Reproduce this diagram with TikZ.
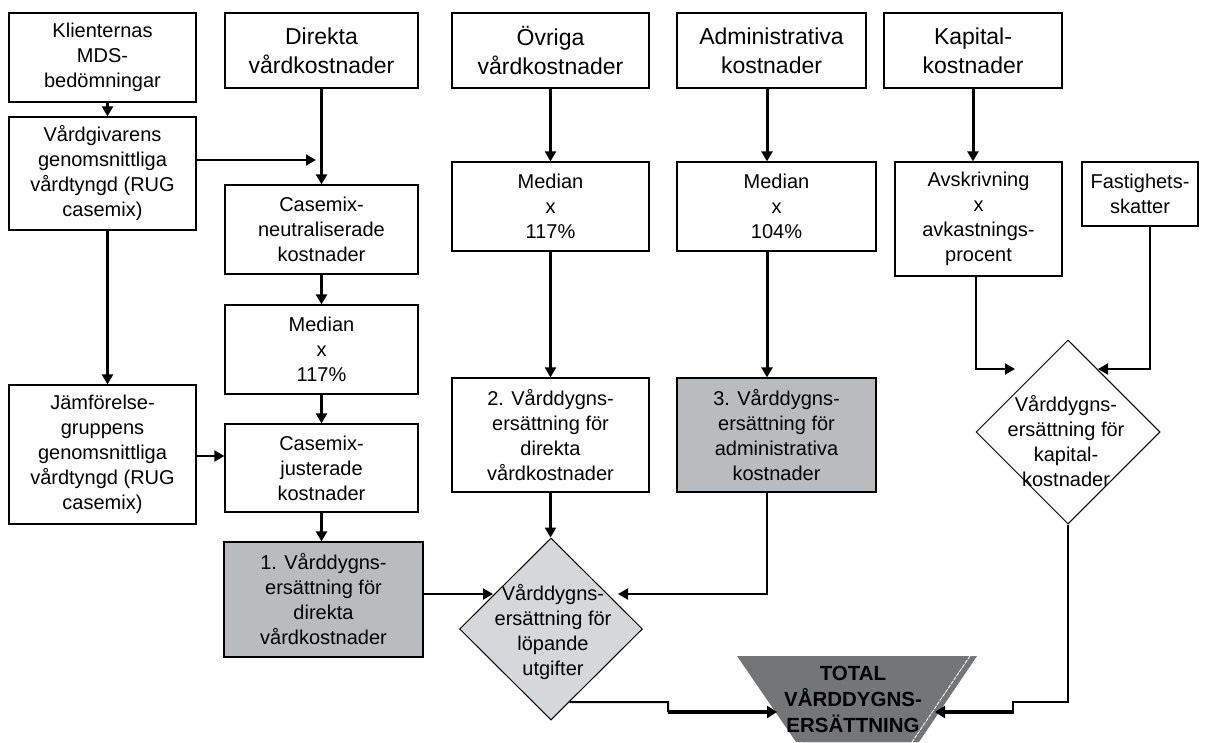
\documentclass[tikz,border=0pt]{standalone}
\usepackage{fontspec}
\setmainfont{Liberation Sans}
\usetikzlibrary{arrows.meta,shapes.geometric,calc}
\definecolor{boxgray}{HTML}{B9BCBE}
\definecolor{dgray}{HTML}{D5D8DA}
\definecolor{totgray}{HTML}{727677}
\begin{document}
\begin{tikzpicture}[x=1pt,y=-1pt,
  box/.style={draw=black, line width=1.3pt, inner sep=0pt, align=center, font=\fontsize{20}{25}\selectfont},
  hbox/.style={box, font=\fontsize{23}{29}\selectfont},
  dtext/.style={inner sep=0pt, align=center, font=\fontsize{20}{25}\selectfont},
  thickarr/.style={line width=3pt, -{Triangle[length=10pt,width=11pt]}},
  thinarr/.style={line width=2pt, -{Triangle[length=10pt,width=11pt]}},
  thinline/.style={line width=2pt},
  dia/.style={diamond, draw=black, line width=1pt, inner sep=0pt},
]
\useasboundingbox (0,0) rectangle (1208,742);

% top row
\node[box, minimum width=187pt, minimum height=89pt] (kli) at (102.5,57.5) {Klienternas\\MDS-\\bedömningar};
\node[hbox, minimum width=193pt, minimum height=75pt] (dir) at (321.5,50.5) {Direkta\\vårdkostnader};
\node[hbox, minimum width=197pt, minimum height=75pt] (ovr) at (550.5,50.5) {Övriga\\vårdkostnader};
\node[hbox, minimum width=189pt, minimum height=75pt] (adm) at (771.5,50.5) {Administrativa\\kostnader};
\node[hbox, minimum width=178pt, minimum height=75pt] (kap) at (973,50.5) {Kapital-\\kostnader};

% left columns
\node[box, minimum width=187pt, minimum height=113pt] (vgv) at (102.5,173.5) {Vårdgivarens\\genomsnittliga\\vårdtyngd (RUG\\casemix)};
\node[box, minimum width=187pt, minimum height=139pt] (jam) at (102.5,454.5) {Jämförelse-\\gruppens\\genomsnittliga\\vårdtyngd (RUG\\casemix)};
\node[box, minimum width=193pt, minimum height=89pt] (cmn) at (321.5,229.5) {Casemix-\\neutraliserade\\kostnader};
\node[box, minimum width=193pt, minimum height=89pt] (med1) at (321.5,349.5) {Median\\x\\117\%};
\node[box, minimum width=193pt, minimum height=88pt] (cmj) at (321.5,468) {Casemix-\\justerade\\kostnader};
\node[box, fill=boxgray, minimum width=199pt, minimum height=115pt] (v1) at (323.5,599.5) {1. Vårddygns-\\ersättning för\\direkta\\vårdkostnader};

% middle columns
\node[box, minimum width=197pt, minimum height=89pt] (med2) at (550.5,206.5) {Median\\x\\117\%};
\node[box, minimum width=197pt, minimum height=114pt] (v2) at (550.5,435) {2. Vårddygns-\\ersättning för\\direkta\\vårdkostnader};
\node[box, minimum width=199pt, minimum height=89pt] (med3) at (776.5,206.5) {Median\\x\\104\%};
\node[box, fill=boxgray, minimum width=199pt, minimum height=114pt] (v3) at (776.5,435) {3. Vårddygns-\\ersättning för\\administrativa\\kostnader};

% right columns
\node[box, minimum width=167pt, minimum height=114pt] (avs) at (978.5,219) {Avskrivning\\x\\avkastnings-\\procent};
\node[box, minimum width=116pt, minimum height=64pt] (fas) at (1140,194) {Fastighets-\\skatter};

% diamonds
\node[dia, fill=dgray, minimum width=183pt, minimum height=182pt] (dl) at (551,629) {};
\node[dtext] (dltext) at (553,632) {Vårddygns-\\ersättning för\\löpande\\utgifter};
\node[dia, fill=white, minimum width=184pt, minimum height=184pt] (dk) at (1068,432) {};
\node[dtext] (dktext) at (1066,441) {Vårddygns-\\ersättning för\\kapital-\\kostnader};

% total
\fill[totgray] (744,656) -- (977,656) -- (919,742) -- (803,742) -- cycle;
\fill[totgray] (737,656) -- (970,656) -- (912,742) -- (796,742) -- cycle;
\draw[white, line width=0.8pt, dash pattern=on 4pt off 1pt] (970,656) -- (912,742);
\node[inner sep=0pt, align=center, font=\bfseries\fontsize{20.5}{26}\selectfont] (tot) at (853,699) {TOTAL\\VÅRDDYGNS-\\ERSÄTTNING};

% coordinates
\coordinate (j1) at (316,160);
\coordinate (ax) at (767,0);
\coordinate (fx) at (1150,0);
\coordinate (dlL) at (493,594);
\coordinate (dlR) at (618,594);
\coordinate (dkL) at (1015,369);
\coordinate (dkR) at (1098,369);
\coordinate (tL) at (777,712);
\coordinate (tR) at (935,712);
\coordinate (l1) at (668,702);
\coordinate (l2) at (668,712);
\coordinate (k1) at (1013,702);
\coordinate (k2) at (1013,712);

% connectors
\draw[thickarr] ([xshift=5pt]kli.south) -- ([xshift=5pt]kli.south |- vgv.north);
\draw[thickarr] ([xshift=5pt]vgv.south) -- ([xshift=5pt]vgv.south |- jam.north);
\draw[thinarr] (vgv.east |- j1) -- (j1);
\draw[thickarr] (dir.south) -- (cmn.north);
\draw[thickarr] (cmn.south) -- (med1.north);
\draw[thickarr] (med1.south) -- (cmj.north);
\draw[thinarr] (jam.east |- 0,456) -- (cmj.west |- 0,456);
\draw[thickarr] (cmj.south) -- (cmj.south |- v1.north);
\draw[thinarr] (v1.east |- dlL) -- (dlL);

\draw[thickarr] (ovr.south) -- (med2.north);
\draw[thickarr] (med2.south) -- (v2.north);
\draw[thickarr] (v2.south) -- (v2.south |- dl.north);

\draw[thickarr] (adm.south -| ax) -- (med3.north -| ax);
\draw[thickarr] (med3.south -| ax) -- (v3.north -| ax);
\draw[thinarr] (v3.south -| ax) |- (dlR);

\draw[thickarr] (kap.south) -- (kap.south |- avs.north);
\draw[thinarr] ([xshift=-3pt]avs.south) |- (dkL);
\draw[thinarr] (fas.south -| fx) |- (dkR);

\draw[thinline] ($(dl.south)!0.2!(dl.east)$) -- (l1) -- (l2);
\draw[line width=4pt, -{Triangle[length=10pt,width=12pt]}] (l2) -- (tL);
\draw[line width=2pt] (dk.south) |- (k1) -- (k2);
\draw[line width=4pt, -{Triangle[length=10pt,width=12pt]}] ([xshift=1pt]k2) -- (tR);
\end{tikzpicture}
\end{document}
